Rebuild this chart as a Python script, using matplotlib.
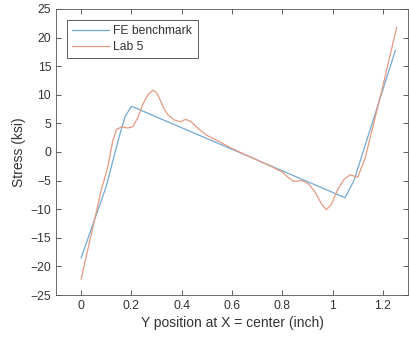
import matplotlib
matplotlib.use("Agg")
import matplotlib.pyplot as plt

plt.rcParams['font.family'] = ['Liberation Sans', 'DejaVu Sans']

fe_x = [0.0, 0.1, 0.15, 0.175, 0.2, 1.05, 1.085, 1.25]
fe_y = [-18.5, -6.0, 2.5, 6.2, 8.0, -8.0, -5.0, 17.8]

lab_x = [0.0, 0.05, 0.08, 0.105, 0.125, 0.14, 0.16, 0.185, 0.205, 0.225, 0.245,
         0.265, 0.285, 0.3, 0.315, 0.33, 0.345, 0.37, 0.395, 0.415, 0.435,
         0.46, 0.5, 0.55, 0.6, 0.65, 0.7, 0.75, 0.8, 0.825, 0.845, 0.88, 0.905,
         0.93, 0.955, 0.975, 0.995, 1.02, 1.045, 1.07, 1.085, 1.1, 1.13, 1.2,
         1.255]
lab_y = [-22.2, -12.5, -6.6, -2.8, 1.8, 3.9, 4.4, 4.2, 4.4, 6.0, 8.3,
         10.0, 10.8, 10.4, 9.0, 7.5, 6.5, 5.6, 5.3, 5.7, 5.4,
         4.3, 2.9, 1.8, 0.6, -0.4, -1.4, -2.4, -3.5, -4.5, -5.1, -5.0, -5.6,
         -7.0, -9.0, -10.1, -9.2, -6.6, -4.8, -4.0, -4.2, -4.4, -1.0, 11.5,
         21.8]

xticks = [0, 0.2, 0.4, 0.6, 0.8, 1.0, 1.2]
xtick_labels = ["0", "0.2", "0.4", "0.6", "0.8", "1", "1.2"]
yticks = [-25, -20, -15, -10, -5, 0, 5, 10, 15, 20, 25]

fig = plt.figure(figsize=(4.1, 3.38), dpi=100)
ax = fig.add_axes([0.1366, 0.1272, 0.8585, 0.8462])

ax.plot(fe_x, fe_y, color='#72a9d6', lw=0.9, label='FE benchmark')
ax.plot(lab_x, lab_y, color='#e59a80', lw=0.9, label='Lab 5')

ax.set_xlim(-0.1, 1.3)
ax.set_ylim(-25, 25)
ax.set_xticks(xticks)
ax.set_xticklabels(xtick_labels)
ax.set_yticks(yticks)
ax.tick_params(direction='in', length=3.5, width=0.6, colors='#444444',
               labelsize=8.7, top=True, right=True, labelcolor='#333333')
for s in ax.spines.values():
    s.set_color('#555555')
    s.set_linewidth(0.6)

ax.set_xlabel('Y position at X = center (inch)', fontsize=10, color='#333333', labelpad=3)
ax.set_ylabel('Stress (ksi)', fontsize=10, color='#333333', labelpad=3)

leg = ax.legend(loc='upper left', fontsize=8.7, handlelength=3.0, fancybox=False,
                edgecolor='#444444', framealpha=1, borderaxespad=0.9,
                borderpad=0.45, labelspacing=0.3, handletextpad=0.4)
leg.get_frame().set_linewidth(0.6)
for t in leg.get_texts():
    t.set_color('#333333')

fig.savefig('out.png', dpi=100)
